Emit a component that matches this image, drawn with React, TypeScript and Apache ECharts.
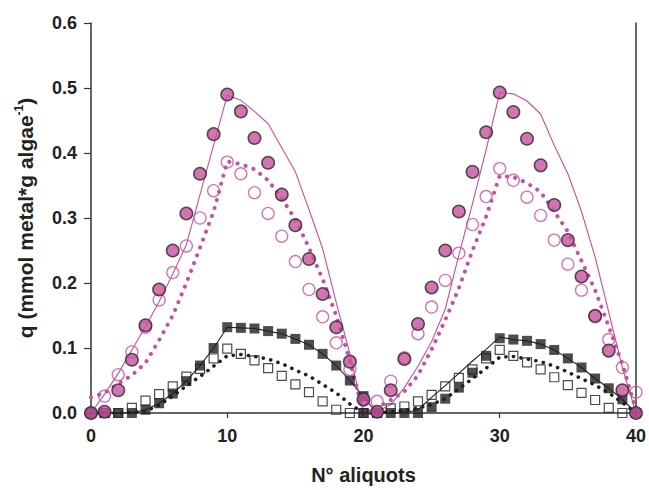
import React, { useEffect, useRef } from "react";
import * as echarts from "echarts";

// Aliquot numbers (x axis)
const aliquots = [
  0, 1, 2, 3, 4, 5, 6, 7, 8, 9, 10, 11, 12, 13, 14, 15, 16, 17, 18, 19, 20,
  21, 22, 23, 24, 25, 26, 27, 28, 29, 30, 31, 32, 33, 34, 35, 36, 37, 38, 39, 40,
];

// Experimental points
const filledCircles = [
  0, 0.002, 0.035, 0.082, 0.135, 0.19, 0.25, 0.307, 0.368, 0.429, 0.49,
  0.464, 0.423, 0.385, 0.336, 0.289, 0.237, 0.183, 0.132, 0.079, 0.021,
  0.002, 0.035, 0.083, 0.137, 0.193, 0.25, 0.31, 0.371, 0.432, 0.493,
  0.463, 0.422, 0.381, 0.32, 0.266, 0.21, 0.149, 0.096, 0.035, 0.0,
];
const openCircles = [
  0, 0.026, 0.059, 0.094, 0.132, 0.174, 0.216, 0.257, 0.3, 0.342, 0.386,
  0.368, 0.339, 0.307, 0.272, 0.233, 0.19, 0.148, 0.108, 0.067, 0.02,
  0.018, 0.049, 0.085, 0.122, 0.163, 0.204, 0.246, 0.29, 0.333, 0.376,
  0.358, 0.332, 0.304, 0.266, 0.229, 0.189, 0.15, 0.113, 0.07, 0.032,
];
const filledSquares = [
  0, 0, 0, 0, 0.005, 0.015, 0.03, 0.049, 0.073, 0.1, 0.132,
  0.131, 0.13, 0.126, 0.122, 0.114, 0.105, 0.091, 0.073, 0.05, 0.026,
  0, 0, 0, 0, 0.009, 0.022, 0.039, 0.062, 0.088, 0.115,
  0.113, 0.111, 0.106, 0.097, 0.084, 0.07, 0.053, 0.038, 0.021, 0,
];
// second run's first filled square (aliquot 20)
const filledSquaresExtraX = [20];
const filledSquaresExtraY = [0];
const openSquares = [
  0, 0, 0, 0.008, 0.019, 0.029, 0.041, 0.056, 0.068, 0.084, 0.099,
  0.091, 0.081, 0.069, 0.057, 0.044, 0.032, 0.018, 0.005, 0, 0,
  0, 0.007, 0.01, 0.018, 0.028, 0.041, 0.054, 0.067, 0.084, 0.097,
  0.088, 0.078, 0.067, 0.055, 0.043, 0.031, 0.02, 0.008, 0, 0,
];

// Model curves
const modelFilledCircles = [
  0, 0.029, 0.061, 0.097, 0.133, 0.171, 0.214, 0.259, 0.336, 0.412, 0.489,
  0.481, 0.464, 0.445, 0.408, 0.371, 0.313, 0.253, 0.17, 0.091, 0.0,
  0.002, 0.013, 0.039, 0.072, 0.11, 0.16, 0.243, 0.322, 0.405, 0.493,
  0.491, 0.48, 0.46, 0.412, 0.368, 0.31, 0.24, 0.155, 0.07, 0.0,
];
const modelOpenCircles = [
  0.024, 0.031, 0.045, 0.058, 0.077, 0.112, 0.15, 0.2, 0.254, 0.31, 0.387,
  0.383, 0.375, 0.358, 0.33, 0.298, 0.254, 0.206, 0.15, 0.08, 0.0,
  0.008, 0.02, 0.033, 0.058, 0.098, 0.143, 0.192, 0.25, 0.302, 0.365,
  0.363, 0.354, 0.34, 0.31, 0.279, 0.234, 0.189, 0.133, 0.075, 0.005,
];
const modelFilledSquares = [
  0, 0, 0, 0, 0.005, 0.015, 0.03, 0.049, 0.073, 0.1, 0.132,
  0.131, 0.13, 0.126, 0.122, 0.114, 0.105, 0.091, 0.073, 0.05, 0.024,
  0, 0, 0, 0.005, 0.024, 0.042, 0.061, 0.08, 0.098, 0.117,
  0.113, 0.111, 0.106, 0.097, 0.084, 0.07, 0.053, 0.038, 0.021, 0,
];
const modelOpenSquares = [
  0, 0, 0, 0.001, 0.003, 0.012, 0.026, 0.042, 0.056, 0.072, 0.088,
  0.09, 0.087, 0.083, 0.076, 0.066, 0.057, 0.044, 0.031, 0.014, 0,
  0, 0.002, 0.004, 0.008, 0.013, 0.022, 0.037, 0.053, 0.069, 0.086,
  0.087, 0.083, 0.079, 0.072, 0.063, 0.053, 0.043, 0.031, 0.016, 0,
];

const yTicks = [0, 0.1, 0.2, 0.3, 0.4, 0.5, 0.6];
const xTicks = [0, 10, 20, 30, 40];

const MAGENTA = "#C8509F";
const BLACK = "#231F20";
const FONT = "'Liberation Sans', Arial, Helvetica, sans-serif";

const pairs = (ys: number[]) => aliquots.map((x, i) => [x, ys[i]]);

export default function App() {
  const ref = useRef<HTMLDivElement>(null);
  useEffect(() => {
    if (!ref.current) return;
    const chart = echarts.init(ref.current, null, { renderer: "svg" });
    const axisLine = { show: true, lineStyle: { color: "#333", width: 1.5 } };
    const option: any = {
      animation: false,
      backgroundColor: "#fff",
      grid: { left: 91, right: 10, top: 23, bottom: 72 },
      xAxis: {
        type: "value",
        min: xTicks[0],
        max: xTicks[xTicks.length - 1],
        interval: 10,
        axisLine,
        axisTick: { show: true, length: 5, lineStyle: { color: "#333", width: 1.2 } },
        axisLabel: {
          fontSize: 18,
          fontWeight: "bold",
          color: "#222",
          fontFamily: FONT,
          margin: 14,
        },
        splitLine: { show: false },
        name: "N° aliquots",
        nameLocation: "middle",
        nameGap: 52,
        nameTextStyle: { fontSize: 20, fontWeight: "bold", color: "#222", fontFamily: FONT },
      },
      yAxis: [
        {
          type: "value",
          min: yTicks[0],
          max: yTicks[yTicks.length - 1],
          interval: 0.1,
          axisLine,
          axisTick: { show: true, length: 7, lineStyle: { color: "#333", width: 1.2 } },
          axisLabel: {
            fontSize: 18,
            fontWeight: "bold",
            color: "#222",
            fontFamily: FONT,
            margin: 14,
            formatter: (v: number) => v.toFixed(1),
          },
          splitLine: { show: false },
          name: "{a|q (mmol metal*g algae}{sup|-1}{a|)}",
          nameLocation: "middle",
          nameGap: 53,
          nameTextStyle: {
            rich: {
              a: { fontSize: 21, fontWeight: "bold", color: "#222", fontFamily: FONT, lineHeight: 25 },
              sup: { fontSize: 12, fontWeight: "bold", color: "#222", fontFamily: FONT, verticalAlign: "top", lineHeight: 14 },
            },
          },
        },
        {
          type: "value",
          position: "right",
          min: yTicks[0],
          max: yTicks[yTicks.length - 1],
          axisLine,
          axisTick: { show: false },
          axisLabel: { show: false },
          splitLine: { show: false },
        },
      ],
      series: [
        {
          type: "line",
          data: pairs(modelOpenSquares),
          symbol: "none",
          lineStyle: { color: BLACK, width: 3.6, type: [0.1, 7.5], cap: "round" },
          z: 2,
        },
        {
          type: "line",
          data: pairs(modelFilledSquares),
          symbol: "none",
          lineStyle: { color: BLACK, width: 1.1 },
          z: 2,
        },
        {
          type: "line",
          data: pairs(modelOpenCircles),
          symbol: "none",
          lineStyle: { color: MAGENTA, width: 4, type: [0.1, 8.3], cap: "round" },
          z: 2,
        },
        {
          type: "line",
          data: pairs(modelFilledCircles),
          symbol: "none",
          lineStyle: { color: MAGENTA, width: 1.1 },
          z: 2,
        },
        {
          type: "scatter",
          data: pairs(openSquares),
          symbol: "rect",
          symbolSize: 9,
          itemStyle: { color: "rgba(255,255,255,0)", borderColor: BLACK, borderWidth: 1.2 },
          z: 3,
        },
        {
          type: "scatter",
          data: pairs(filledSquares).concat(
            filledSquaresExtraX.map((x, i) => [x, filledSquaresExtraY[i]])
          ),
          symbol: "rect",
          symbolSize: 10,
          itemStyle: { color: BLACK },
          z: 4,
        },
        {
          type: "scatter",
          data: pairs(openCircles),
          symbol: "circle",
          symbolSize: 12,
          itemStyle: { color: "rgba(255,255,255,0)", borderColor: MAGENTA, borderWidth: 1.3 },
          z: 5,
        },
        {
          type: "scatter",
          data: pairs(filledCircles),
          symbol: "circle",
          symbolSize: 12.5,
          itemStyle: { color: MAGENTA, borderColor: "#2a2a2a", borderWidth: 1.5 },
          z: 6,
        },
      ],
    };
    chart.setOption(option);
    return () => chart.dispose();
  }, []);
  return (
    <div
      ref={ref}
      style={{ position: "fixed", left: 0, top: 0, width: 649, height: 490, background: "#fff" }}
    />
  );
}
